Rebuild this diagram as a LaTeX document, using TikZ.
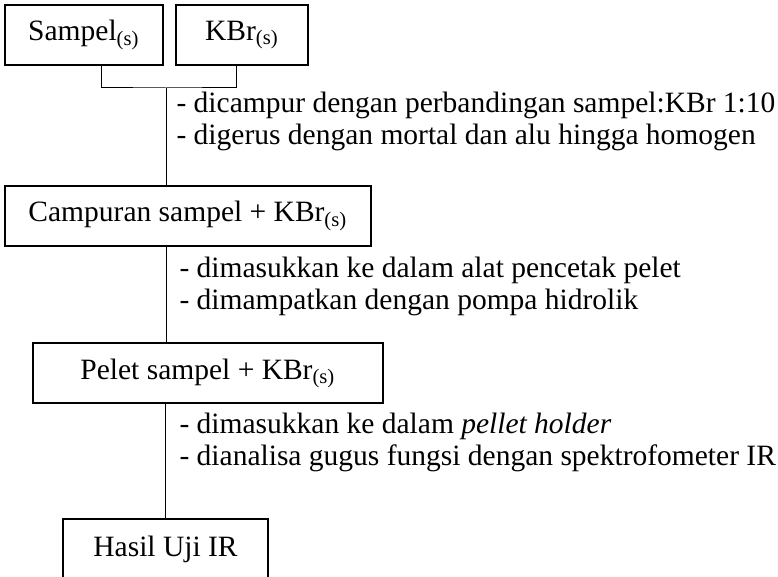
\documentclass[tikz,border=0pt]{standalone}
\usepackage{fontspec}
\setmainfont{Liberation Serif}
\usepackage{tikz}

\begin{document}
\begin{tikzpicture}[x=0.4pt, y=-0.4pt,
    kotak/.style={draw=black, line width=0.8pt, rectangle, inner sep=0pt,
        minimum height=24pt, font=\fontsize{11.8}{13}\selectfont},
    ket/.style={anchor=base west, inner sep=0pt, font=\fontsize{11.8}{13}\selectfont}]
    \clip (0,0) rectangle (778,577);
    \node [kotak, minimum width=63.2pt] (sampel) at (84,35) {Sampel\textsubscript{(s)}};
    \node [kotak, minimum width=52.8pt] (kbr) at (242,35) {KBr\textsubscript{(s)}};
    \node [kotak, minimum width=146.4pt] (campuran) at (188,216) {Campuran sampel + KBr\textsubscript{(s)}};
    \node [kotak, minimum width=140pt] (pelet) at (208,373.5) {Pelet sampel + KBr\textsubscript{(s)}};
    \node [kotak, minimum width=82pt] (hasil) at (165.5,549) {Hasil Uji IR};
    \coordinate (gabung) at (166,88);
    \draw [line width=0.4pt] (sampel.south -| 101,0) |- (gabung) -| (kbr.south -| 236,0);
    \draw [line width=0.4pt] (gabung) -- (gabung |- campuran.north);
    \draw [line width=0.4pt] (campuran.south -| gabung) -- (pelet.north -| gabung);
    \draw [line width=0.4pt] (hasil.north |- pelet.south) -- (hasil.north);
    \node [ket] (ket1a) at (176,113) {- dicampur dengan perbandingan sampel:KBr 1:10};
    \node [ket] (ket1b) at (176,145) {- digerus dengan mortal dan alu hingga homogen};
    \node [ket] (ket2a) at (179,278) {- dimasukkan ke dalam alat pencetak pelet};
    \node [ket] (ket2b) at (179,310) {- dimampatkan dengan pompa hidrolik};
    \node [ket] (ket3a) at (179,433) {- dimasukkan ke dalam \textit{pellet holder}};
    \node [ket] (ket3b) at (179,465) {- dianalisa gugus fungsi dengan spektrofometer IR};
\end{tikzpicture}
\end{document}
